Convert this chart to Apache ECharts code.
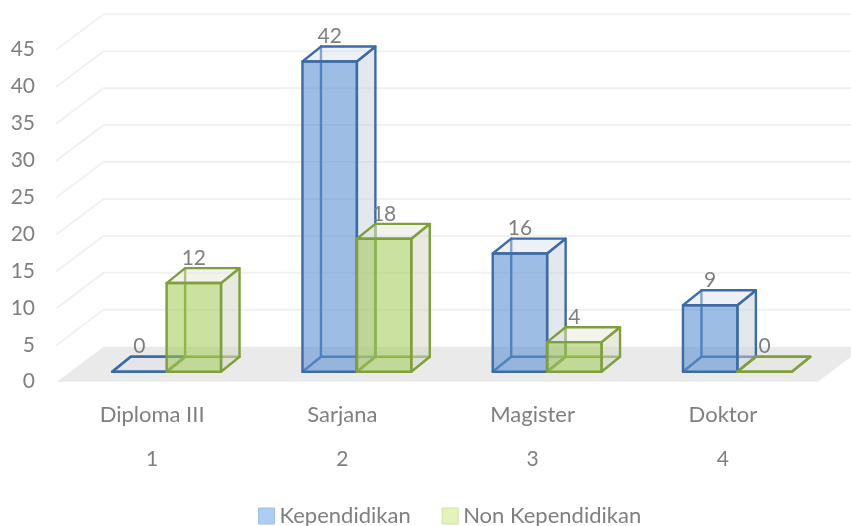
<!DOCTYPE html>
<html>
<head>
<meta charset="utf-8">
<style>html,body{margin:0;padding:0;background:#fff}#c{width:851px;height:526px}</style>
<script src="https://cdn.jsdelivr.net/npm/echarts@6/dist/echarts.min.js"></script>
</head>
<body>
<div id="c"></div>
<script>
var categories = ['Diploma III', 'Sarjana', 'Magister', 'Doktor'];
var rowNumbers = ['1', '2', '3', '4'];
var kependidikan = [0, 42, 16, 9];
var nonKependidikan = [12, 18, 4, 0];
var yTicks = [5, 10, 15, 20, 25, 30, 35, 40, 45];

var FONT = 'Lato';
var TEXT = '#7f7f7f';
var WALL = [46.5, -35];     // front of the floor to the back wall
var PLANE = [14.5, -10];    // front of the floor to the front face of the bars
var DEPTH = [18.5, -14.9];  // depth of a bar
var EDGE = 2.4;

var chart = echarts.init(document.getElementById('c'), null, {renderer: 'canvas'});

function line(points, color, width) {
  return {type: 'polyline', shape: {points: points},
    style: {fill: 'none', stroke: color, lineWidth: width, lineJoin: 'round', lineCap: 'round'}};
}
function poly(points, fill, stroke) {
  return {type: 'polygon', shape: {points: points},
    style: {fill: fill, stroke: stroke, lineWidth: EDGE, lineJoin: 'round'}};
}
function boxSeries(name, values, side, look) {
  return {
    name: name, type: 'custom', xAxisIndex: 0, yAxisIndex: 0, clip: false, z: 5,
    itemStyle: {color: look.swatch},
    data: values.map(function (v, i) { return [i, v]; }),
    renderItem: function (params, api) {
      var band = api.size([1, 0])[0];
      var w = band * 0.286;
      var base = api.coord([api.value(0), 0]);
      var top = api.coord([api.value(0), api.value(1)]);
      var x0 = base[0] + PLANE[0] + (side < 0 ? -w : 0);
      var x1 = x0 + w, y0 = base[1] + PLANE[1], y1 = top[1] + PLANE[1];
      var dx = DEPTH[0], dy = DEPTH[1];
      return {type: 'group', children: [
        line([[x0, y0], [x0 + dx, y0 + dy], [x1 + dx, y0 + dy]], look.line, EDGE),
        line([[x0 + dx, y0 + dy], [x0 + dx, y1 + dy]], look.line, EDGE),
        poly([[x1, y0], [x1 + dx, y0 + dy], [x1 + dx, y1 + dy], [x1, y1]], look.side, look.line),
        poly([[x0, y1], [x1, y1], [x1 + dx, y1 + dy], [x0 + dx, y1 + dy]], look.top, look.line),
        poly([[x0, y0], [x1, y0], [x1, y1], [x0, y1]], look.front, look.line),
        {type: 'text', z2: 50, style: {
          text: String(api.value(1)), x: (x0 + x1) / 2, y: y1 - 25,
          fill: TEXT, font: '21px ' + FONT, textAlign: 'center', textVerticalAlign: 'middle'}}
      ]};
    }
  };
}

chart.setOption({
  animation: false,
  backgroundColor: '#ffffff',
  textStyle: {fontFamily: FONT},
  grid: {left: 57, top: 49.3, width: 761, height: 332.4, containLabel: false},
  xAxis: [
    {type: 'category', data: categories, position: 'bottom',
      axisLine: {show: false}, axisTick: {show: false}, splitLine: {show: false},
      axisLabel: {color: TEXT, fontFamily: FONT, fontSize: 22, margin: 22}},
    {type: 'category', data: rowNumbers, position: 'bottom', offset: 45,
      axisLine: {show: false}, axisTick: {show: false}, splitLine: {show: false},
      axisLabel: {color: TEXT, fontFamily: FONT, fontSize: 21, margin: 22}}
  ],
  yAxis: {type: 'value', min: 0, max: 45, interval: 5,
    axisLine: {show: false}, axisTick: {show: false}, splitLine: {show: false},
    axisLabel: {color: TEXT, fontFamily: FONT, fontSize: 21, margin: 22, padding: [8, 0, 0, 0]}},
  legend: {
    left: 253, top: 500, itemWidth: 16, itemHeight: 16, itemGap: 31, icon: 'rect',
    textStyle: {color: TEXT, fontFamily: FONT, fontSize: 22},
    data: [
      {name: 'Kependidikan', itemStyle: {color: '#aecdf3', borderColor: '#9dbfe6', borderWidth: 1}},
      {name: 'Non Kependidikan', itemStyle: {color: '#e3f3ba', borderColor: '#cfe3a0', borderWidth: 1}}
    ]
  },
  series: [
    {type: 'custom', z: 1, clip: false, silent: true, data: [[0, 0]],
      renderItem: function (params, api) {
        var c = params.coordSys, y = api.coord([0, 0])[1], x0 = c.x, x1 = c.x + c.width;
        return {type: 'polygon', shape: {points: [[x0, y], [x1, y], [x1 + WALL[0], y + WALL[1]], [x0 + WALL[0], y + WALL[1]]]},
          style: {fill: '#eaeaea'}};
      }},
    {type: 'custom', z: 2, clip: false, silent: true,
      data: yTicks.map(function (v) { return [0, v]; }),
      renderItem: function (params, api) {
        var c = params.coordSys, y = api.coord([0, api.value(1)])[1];
        return line([[c.x, y], [c.x + WALL[0], y + WALL[1]], [c.x + c.width + WALL[0], y + WALL[1]]], '#f1f1f1', 2);
      }},
    boxSeries('Kependidikan', kependidikan, -1, {
      swatch: '#aecdf3', line: '#3d6ba4',
      front: 'rgba(91,145,210,0.6)', side: 'rgba(200,207,222,0.5)', top: 'rgba(220,224,236,0.48)'}),
    boxSeries('Non Kependidikan', nonKependidikan, 1, {
      swatch: '#e3f3ba', line: '#7f9f3f',
      front: 'rgba(158,200,80,0.55)', side: 'rgba(209,213,193,0.5)', top: 'rgba(226,230,215,0.48)'})
  ]
});
</script>
</body>
</html>
